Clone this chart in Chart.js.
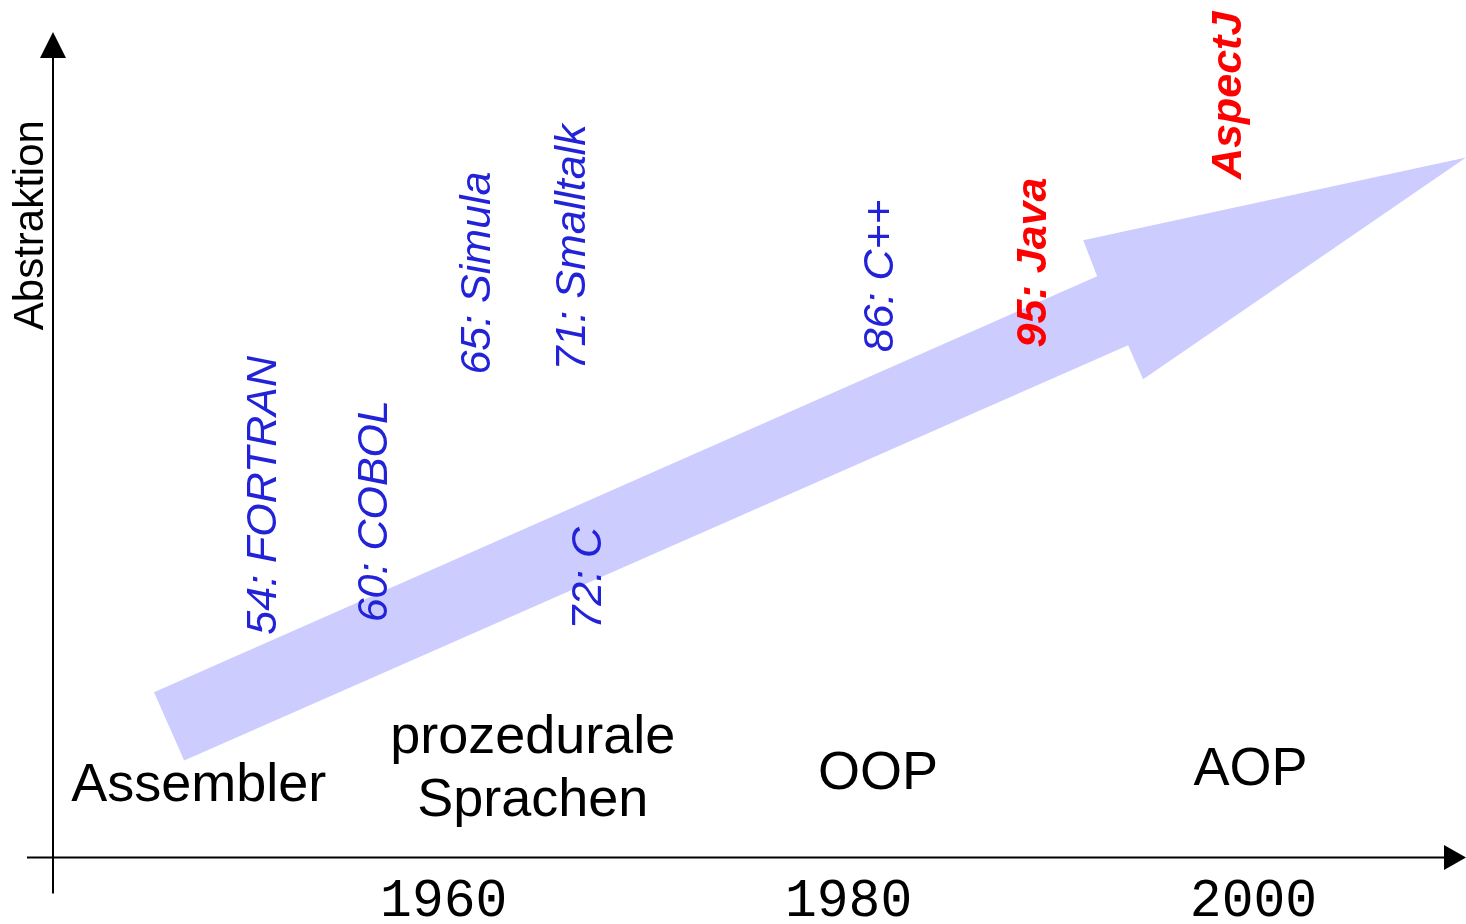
<!DOCTYPE html>
<html>
<head>
<meta charset="utf-8">
<script src="https://cdn.jsdelivr.net/npm/chart.js@4"></script>
<style>
html,body{margin:0;padding:0;background:#fff;}
canvas{display:block;}
</style>
</head>
<body>
<canvas id="c" width="1466" height="924"></canvas>
<script>
// ---- data ----
const tickYears = [1960, 1980, 2000];

const languages = ['54: FORTRAN', '60: COBOL', '65: Simula', '71: Smalltalk', '72: C', '86: C++', '95: Java', 'AspectJ'];
const languagePos = [1951.1, 1956.6, 1961.7, 1966.4, 1967.2, 1981.6, 1989.15, 1998.8];
const languageLevel = [27.0, 28.5, 58.5, 59.0, 27.6, 61.2, 61.8, 82.2];
const languageHighlight = [false, false, false, false, false, false, true, true];

const paradigms = [['Assembler'], ['prozedurale', 'Sprachen'], ['OOP'], ['AOP']];
const paradigmPos = [1947.9, 1964.4, 1981.45, 1999.85];
const paradigmLevel = [6.9, 12.7, 8.35, 8.75];

const arrowPos = [1945.69, 1992.28, 1991.59, 2010.5, 1994.55, 1993.81, 1947.18];
const arrowLevel = [20.04, 70.42, 74.79, 84.81, 57.94, 62.06, 11.76];

const axisTitle = 'Abstraktion';
const axisTitleLevel = 76.6;

// ---- chart ----
const overlay = {
  id: 'overlay',
  afterDatasetsDraw(chart) {
    const ctx = chart.ctx;
    const a = chart.chartArea;
    const ys = chart.scales.y;
    ctx.save();
    // axes
    ctx.strokeStyle = '#000';
    ctx.fillStyle = '#000';
    ctx.lineWidth = 2;
    ctx.beginPath();
    ctx.moveTo(a.left - 26, a.bottom);
    ctx.lineTo(a.right - 18, a.bottom);
    ctx.stroke();
    ctx.beginPath();
    ctx.moveTo(a.right, a.bottom);
    ctx.lineTo(a.right - 22, a.bottom - 12.5);
    ctx.lineTo(a.right - 22, a.bottom + 12.5);
    ctx.closePath();
    ctx.fill();
    ctx.beginPath();
    ctx.moveTo(a.left, a.bottom + 36);
    ctx.lineTo(a.left, a.top + 20);
    ctx.stroke();
    ctx.beginPath();
    ctx.moveTo(a.left, a.top);
    ctx.lineTo(a.left - 13, a.top + 26);
    ctx.lineTo(a.left + 13, a.top + 26);
    ctx.closePath();
    ctx.fill();

    // axis title
    ctx.save();
    ctx.translate(a.left - 22, ys.getPixelForValue(axisTitleLevel));
    ctx.rotate(-Math.PI / 2);
    ctx.font = '42px "Liberation Sans", Arial, sans-serif';
    ctx.textAlign = 'center';
    ctx.textBaseline = 'middle';
    ctx.fillStyle = '#000';
    ctx.fillText(axisTitle, 0, 0);
    ctx.restore();

    // language labels
    const lm = chart.getDatasetMeta(1);
    lm.data.forEach((pt, i) => {
      ctx.save();
      ctx.translate(pt.x, pt.y);
      ctx.rotate(-Math.PI / 2);
      const hi = languageHighlight[i];
      ctx.font = (hi ? 'italic bold ' : 'italic ') + '43px "Liberation Sans", Arial, sans-serif';
      ctx.fillStyle = hi ? '#ff0000' : '#2222d8';
      ctx.textAlign = 'left';
      ctx.textBaseline = 'middle';
      ctx.fillText(languages[i], 0, 0);
      ctx.restore();
    });

    // paradigm labels
    const pm = chart.getDatasetMeta(2);
    pm.data.forEach((pt, i) => {
      ctx.font = '54px "Liberation Sans", Arial, sans-serif';
      ctx.fillStyle = '#000';
      ctx.textAlign = 'center';
      ctx.textBaseline = 'alphabetic';
      paradigms[i].forEach((line, k) => ctx.fillText(line, pt.x, pt.y + k * 63));
    });
    ctx.restore();
  }
};

new Chart(document.getElementById('c'), {
  type: 'scatter',
  data: {
    datasets: [
      {
        label: 'Entwicklung',
        data: arrowPos.map((x, i) => ({x: x, y: arrowLevel[i]})),
        showLine: true,
        fill: 'shape',
        backgroundColor: '#ccccff',
        borderColor: 'rgba(0,0,0,0)',
        borderWidth: 1,
        pointRadius: 0,
        tension: 0
      },
      {
        label: 'Sprachen',
        data: languagePos.map((x, i) => ({x: x, y: languageLevel[i]})),
        pointRadius: 0,
        showLine: false
      },
      {
        label: 'Paradigmen',
        data: paradigmPos.map((x, i) => ({x: x, y: paradigmLevel[i]})),
        pointRadius: 0,
        showLine: false
      }
    ]
  },
  options: {
    responsive: false,
    devicePixelRatio: 1,
    animation: false,
    events: [],
    layout: {padding: {left: 53, right: 0, top: 32, bottom: -22}},
    plugins: {legend: {display: false}, tooltip: {enabled: false}},
    scales: {
      x: {
        type: 'linear',
        position: 'bottom',
        min: 1940.7,
        max: 2010.5,
        afterBuildTicks: s => { s.ticks = tickYears.map(v => ({value: v})); },
        ticks: {
          callback: v => String(v),
          font: {family: '"Liberation Mono", "Courier New", monospace', size: 53, lineHeight: 0.8},
          color: '#000',
          padding: 23,
          autoSkip: false,
          maxRotation: 0
        },
        grid: {display: false, drawTicks: false},
        border: {display: false}
      },
      y: {type: 'linear', min: 0, max: 100, display: false}
    }
  },
  plugins: [overlay]
});
</script>
</body>
</html>
